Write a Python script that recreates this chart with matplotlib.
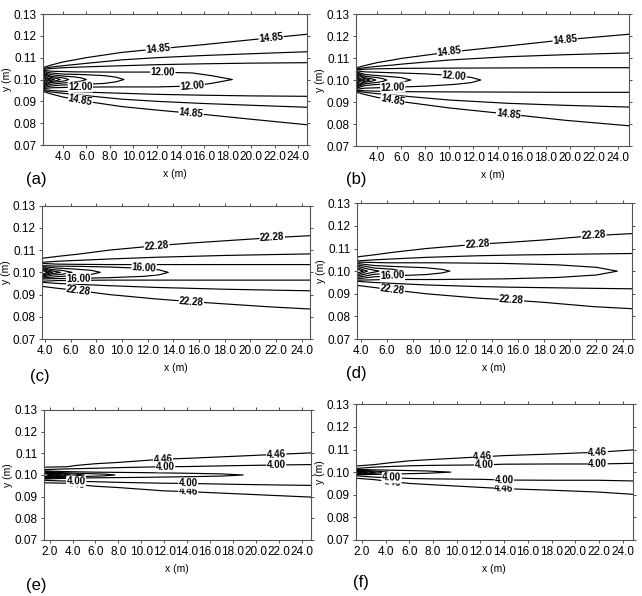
import numpy as np
import matplotlib.pyplot as plt

plt.rcParams['font.family'] = ['Liberation Sans', 'DejaVu Sans']

Y0 = 0.10  # centre line of the plume (m)

# ---------------- (a) ----------------
a_xlim = (2.3, 24.7)
a_open_x = [2.3, 3, 4, 6, 9, 12, 16, 20, 24.7]
a_open_hw = [
    [0.0054, 0.0066, 0.0080, 0.0100, 0.0124, 0.0140, 0.0160, 0.0182, 0.0207],
    [0.0050, 0.0057, 0.0063, 0.0074, 0.0090, 0.0100, 0.0110, 0.0118, 0.0127],
    [0.0046, 0.0050, 0.0054, 0.0058, 0.0063, 0.0068, 0.0072, 0.0075, 0.0077],
]
a_lobe_x = [[2.3, 3, 5, 8, 12, 15, 16.7, 18.4],
            [2.3, 3, 4, 5.5, 7.5, 8.5, 9.2],
            [2.3, 3, 4, 5, 5.6, 6.0],
            [2.3, 3, 3.7, 4.2, 4.5],
            [2.3, 3.0, 3.5, 3.8],
            [2.3, 2.8, 3.3],
            [2.3, 2.6, 2.9],
            [2.3, 2.45, 2.6]]
a_lobe_hw = [[0.0042, 0.0038, 0.0035, 0.0034, 0.0034, 0.0030, 0.0017, 0],
             [0.0038, 0.0030, 0.0025, 0.0023, 0.0018, 0.0011, 0],
             [0.0034, 0.0022, 0.0016, 0.0012, 0.0007, 0],
             [0.0030, 0.0014, 0.0010, 0.0006, 0],
             [0.0026, 0.0009, 0.0005, 0],
             [0.0022, 0.0006, 0],
             [0.0018, 0.0005, 0],
             [0.0014, 0.0004, 0]]
a_levels = ['14.85', '12.00']
# (line kind, line index, side, x, level index)
a_labels = [('o', 0, 1, 12.1, 0), ('o', 0, 1, 21.7, 0), ('o', 0, -1, 5.5, 0),
            ('o', 0, -1, 14.9, 0), ('l', 0, 1, 12.5, 1), ('l', 0, -1, 15.0, 1),
            ('l', 0, -1, 5.5, 1)]

# ---------------- (b) ----------------
b_xlim = (2.25, 24.9)
b_open_x = [2.25, 3, 4, 5.3, 6, 10, 14.9, 19.6, 24.9]
b_open_hw = [
    [0.0055, 0.0066, 0.0079, 0.0091, 0.0098, 0.0127, 0.0155, 0.0183, 0.0208],
    [0.0050, 0.0056, 0.0062, 0.0068, 0.0072, 0.0091, 0.0106, 0.0115, 0.0123],
    [0.0046, 0.0049, 0.0051, 0.0052, 0.0053, 0.0054, 0.0055, 0.0056, 0.0056],
]
b_lobe_x = [[2.25, 3, 5.3, 8, 10.4, 11.8, 12.6],
            [2.25, 3, 4.5, 6, 6.8],
            [2.25, 3, 4, 4.5, 4.8],
            [2.25, 3, 3.6, 3.9],
            [2.25, 2.9, 3.4],
            [2.25, 2.6, 3.0],
            [2.25, 2.45, 2.7],
            [2.25, 2.38, 2.5]]
b_lobe_hw = [[0.0042, 0.0037, 0.0033, 0.0028, 0.0020, 0.0012, 0],
             [0.0038, 0.0025, 0.0018, 0.0011, 0],
             [0.0034, 0.0017, 0.0011, 0.0006, 0],
             [0.0030, 0.0010, 0.0005, 0],
             [0.0026, 0.0007, 0],
             [0.0022, 0.0006, 0],
             [0.0018, 0.0005, 0],
             [0.0014, 0.0004, 0]]
b_levels = ['14.85', '12.00']
b_labels = [('o', 0, 1, 10.0, 0), ('o', 0, 1, 19.6, 0), ('o', 0, -1, 5.3, 0),
            ('o', 0, -1, 14.9, 0), ('l', 0, 1, 10.4, 1), ('l', 0, -1, 5.3, 1)]

# ---------------- (c) ----------------
c_xlim = (3.74, 24.65)
c_open_x = [3.74, 5, 6.6, 9, 12.7, 15.4, 18, 21.7, 24.65]
c_open_hw = [
    [0.0063, 0.0072, 0.0082, 0.0100, 0.0120, 0.0132, 0.0142, 0.0156, 0.0165],
    [0.0045, 0.0050, 0.0054, 0.0060, 0.0068, 0.0072, 0.0076, 0.0080, 0.0083],
    [0.0040, 0.0037, 0.0036, 0.0035, 0.0035, 0.0035, 0.0035, 0.0035, 0.0035],
]
c_lobe_x = [[3.74, 5, 6.6, 9, 11.7, 12.9, 13.6],
            [3.74, 5, 6.5, 7.6, 8.3],
            [3.74, 4.5, 5.4, 6.1],
            [3.74, 4.4, 5.2],
            [3.74, 4.2, 4.6],
            [3.74, 4.0, 4.3]]
c_lobe_hw = [[0.0030, 0.0028, 0.0027, 0.0024, 0.0018, 0.0011, 0],
             [0.0026, 0.0019, 0.0014, 0.0009, 0],
             [0.0022, 0.0013, 0.0008, 0],
             [0.0018, 0.0008, 0],
             [0.0014, 0.0006, 0],
             [0.0010, 0.0004, 0]]
c_levels = ['22.28', '16.00']
c_labels = [('o', 0, 1, 12.7, 0), ('o', 0, 1, 21.7, 0), ('o', 0, -1, 6.6, 0),
            ('o', 0, -1, 15.4, 0), ('l', 0, 1, 11.7, 1), ('l', 0, -1, 6.6, 1)]

# ---------------- (d) ----------------
d_xlim = (3.7, 24.7)
d_open_x = [3.7, 5, 6.4, 9, 12.9, 15.5, 18, 21.8, 24.7]
d_open_hw = [
    [0.0063, 0.0072, 0.0083, 0.0100, 0.0119, 0.0128, 0.0138, 0.0157, 0.0166],
    [0.0045, 0.0050, 0.0054, 0.0061, 0.0068, 0.0071, 0.0073, 0.0076, 0.0078],
]
d_lobe_x = [[3.7, 6, 10, 15, 19, 22, 23.6],
            [3.7, 5, 6.4, 9, 10.2, 10.8],
            [3.7, 5, 6.5, 7.1],
            [3.7, 4.5, 5.4],
            [3.7, 4.2, 4.5],
            [3.7, 3.95, 4.2]]
d_lobe_hw = [[0.0040, 0.0037, 0.0037, 0.0034, 0.0028, 0.0017, 0],
             [0.0034, 0.0025, 0.0021, 0.0015, 0.0008, 0],
             [0.0028, 0.0014, 0.0008, 0],
             [0.0022, 0.0010, 0],
             [0.0016, 0.0006, 0],
             [0.0010, 0.0004, 0]]
d_levels = ['22.28', '16.00']
d_labels = [('o', 0, 1, 12.9, 0), ('o', 0, 1, 21.8, 0), ('o', 0, -1, 6.4, 0),
            ('o', 0, -1, 15.5, 0), ('l', 1, -1, 6.4, 1)]

# ---------------- (e) ----------------
e_xlim = (1.5, 24.8)
e_open_x = [1.5, 3.5, 4.3, 6, 8, 11.9, 14.1, 18, 21.8, 24.8]
e_open_hw = [
    [0.0036, 0.0038, 0.0044, 0.0052, 0.0058, 0.0073, 0.0077, 0.0086, 0.0095, 0.0102],
    [0.0025, 0.0028, 0.0029, 0.0031, 0.0034, 0.0038, 0.0039, 0.0043, 0.0046, 0.0048],
]
e_lobe_x = [[1.5, 3, 6, 10, 14, 17, 18.9],
            [1.5, 3, 5, 6.8, 7.7],
            [1.5, 3, 4.2, 5.0],
            [1.5, 2.8, 3.8],
            [1.5, 2.4, 3.1],
            [1.5, 2.1, 2.6],
            [1.5, 1.9, 2.2]]
e_lobe_hw = [[0.0019, 0.0016, 0.0013, 0.0011, 0.0008, 0.0005, 0],
             [0.0017, 0.0011, 0.0007, 0.0004, 0],
             [0.0015, 0.0008, 0.0004, 0],
             [0.0013, 0.0006, 0],
             [0.0011, 0.0005, 0],
             [0.0009, 0.0004, 0],
             [0.0007, 0.0003, 0]]
e_levels = ['4.46', '4.00']
e_labels = [('o', 0, 1, 11.9, 0), ('o', 0, 1, 21.8, 0), ('o', 0, -1, 14.1, 0),
            ('o', 0, -1, 4.3, 0), ('o', 1, 1, 12.1, 1), ('o', 1, 1, 21.8, 1),
            ('o', 1, -1, 14.1, 1), ('o', 1, -1, 4.3, 1)]

# ---------------- (f) ----------------
f_xlim = (1.5, 24.85)
f_open_x = [1.5, 3, 4.5, 6, 8, 12.2, 14, 18, 21.9, 24.85]
f_open_hw = [
    [0.0027, 0.0033, 0.0042, 0.0050, 0.0056, 0.0068, 0.0073, 0.0080, 0.0088, 0.0098],
    [0.0016, 0.0022, 0.0025, 0.0028, 0.0030, 0.0032, 0.0035, 0.0036, 0.0036, 0.0039],
]
f_lobe_x = [[1.5, 3, 5, 7.5, 9.5],
            [1.5, 3, 4.2],
            [1.5, 2.5, 3.2],
            [1.5, 2.1, 2.5],
            [1.5, 1.8, 2.0]]
f_lobe_hw = [[0.0012, 0.0010, 0.0008, 0.0005, 0],
             [0.0010, 0.0005, 0],
             [0.0008, 0.0004, 0],
             [0.0006, 0.0003, 0],
             [0.0004, 0.0002, 0]]
f_levels = ['4.46', '4.00']
f_labels = [('o', 0, 1, 12.2, 0), ('o', 0, 1, 21.9, 0), ('o', 0, -1, 14.0, 0),
            ('o', 0, -1, 4.5, 0), ('o', 1, 1, 12.3, 1), ('o', 1, 1, 21.9, 1),
            ('o', 1, -1, 14.0, 1), ('o', 1, -1, 4.5, 1)]

yticks = [0.07, 0.08, 0.09, 0.10, 0.11, 0.12, 0.13]

panels = [
    ('(a)', a_xlim, np.arange(4, 25, 2), a_open_x, a_open_hw, a_lobe_x, a_lobe_hw, a_levels, a_labels),
    ('(b)', b_xlim, np.arange(4, 25, 2), b_open_x, b_open_hw, b_lobe_x, b_lobe_hw, b_levels, b_labels),
    ('(c)', c_xlim, np.arange(4, 25, 2), c_open_x, c_open_hw, c_lobe_x, c_lobe_hw, c_levels, c_labels),
    ('(d)', d_xlim, np.arange(4, 25, 2), d_open_x, d_open_hw, d_lobe_x, d_lobe_hw, d_levels, d_labels),
    ('(e)', e_xlim, np.arange(2, 25, 2), e_open_x, e_open_hw, e_lobe_x, e_lobe_hw, e_levels, e_labels),
    ('(f)', f_xlim, np.arange(2, 25, 2), f_open_x, f_open_hw, f_lobe_x, f_lobe_hw, f_levels, f_labels),
]

# axes rectangles [left, bottom, width, height] in figure fraction
rects = [[0.0665, 0.7567, 0.411, 0.2198], [0.5545, 0.755, 0.4252, 0.2215],
         [0.065, 0.4312, 0.418, 0.2237], [0.556, 0.4312, 0.428, 0.2277],
         [0.0685, 0.094, 0.4154, 0.2181], [0.5545, 0.094, 0.431, 0.2277]]
letter_pos = [(0.057, 0.698), (0.5545, 0.698), (0.062, 0.368),
              (0.5545, 0.374), (0.057, 0.018), (0.562, 0.022)]

fig = plt.figure(figsize=(6.42, 5.96), dpi=100)

for k, (tag, xlim, xticks, ox, ohw, lx, lhw, levels, labels) in enumerate(panels):
    ax = fig.add_axes(rects[k])
    ax.set_xlim(*xlim)
    ax.set_ylim(0.07, 0.13)

    # open contours (upper and lower branch)
    for hw in ohw:
        hw = np.array(hw)
        ax.plot(ox, Y0 + hw, color='black', lw=0.85)
        ax.plot(ox, Y0 - hw, color='black', lw=0.85)
    # closed lobes near the source
    for xs, hw in zip(lx, lhw):
        xs = np.array(xs)
        hw = np.array(hw)
        ax.plot(np.concatenate([xs, xs[::-1]]),
                np.concatenate([Y0 + hw, (Y0 - hw)[::-1]]), color='black', lw=0.85)

    # inline contour labels
    for kind, idx, side, x, lev in labels:
        xs = np.array(ox if kind == 'o' else lx[idx])
        hw = np.array(ohw[idx] if kind == 'o' else lhw[idx])
        y = Y0 + side * np.interp(x, xs, hw)
        y1 = Y0 + side * np.interp(x - 0.6, xs, hw)
        y2 = Y0 + side * np.interp(x + 0.6, xs, hw)
        p1, p2 = ax.transData.transform([(x - 0.6, y1), (x + 0.6, y2)])
        ang = np.degrees(np.arctan2(p2[1] - p1[1], p2[0] - p1[0]))
        ax.text(x, y, levels[lev], fontsize=7, fontweight='bold', rotation=ang,
                rotation_mode='anchor', ha='center', va='center', zorder=5,
                bbox=dict(facecolor='white', edgecolor='none', pad=0.3))

    ax.set_xticks(xticks)
    ax.set_xticklabels(['%.1f' % v for v in xticks])
    ax.set_yticks(yticks)
    ax.set_yticklabels(['%.2f' % v for v in yticks])
    ax.tick_params(direction='out', length=2.5, width=0.6, top=True, right=True,
                   labelsize=8.5, pad=2, colors='#333333', labelcolor='black')
    for sp in ax.spines.values():
        sp.set_color('#555555')
        sp.set_linewidth(0.8)
    ax.set_xlabel('x (m)', fontsize=7.5, labelpad=4)
    ax.set_ylabel('y (m)', fontsize=7.5, labelpad=1)

    fig.text(letter_pos[k][0], letter_pos[k][1], tag, fontsize=12,
             ha='center', va='center')

fig.savefig('out.png', dpi=100)
